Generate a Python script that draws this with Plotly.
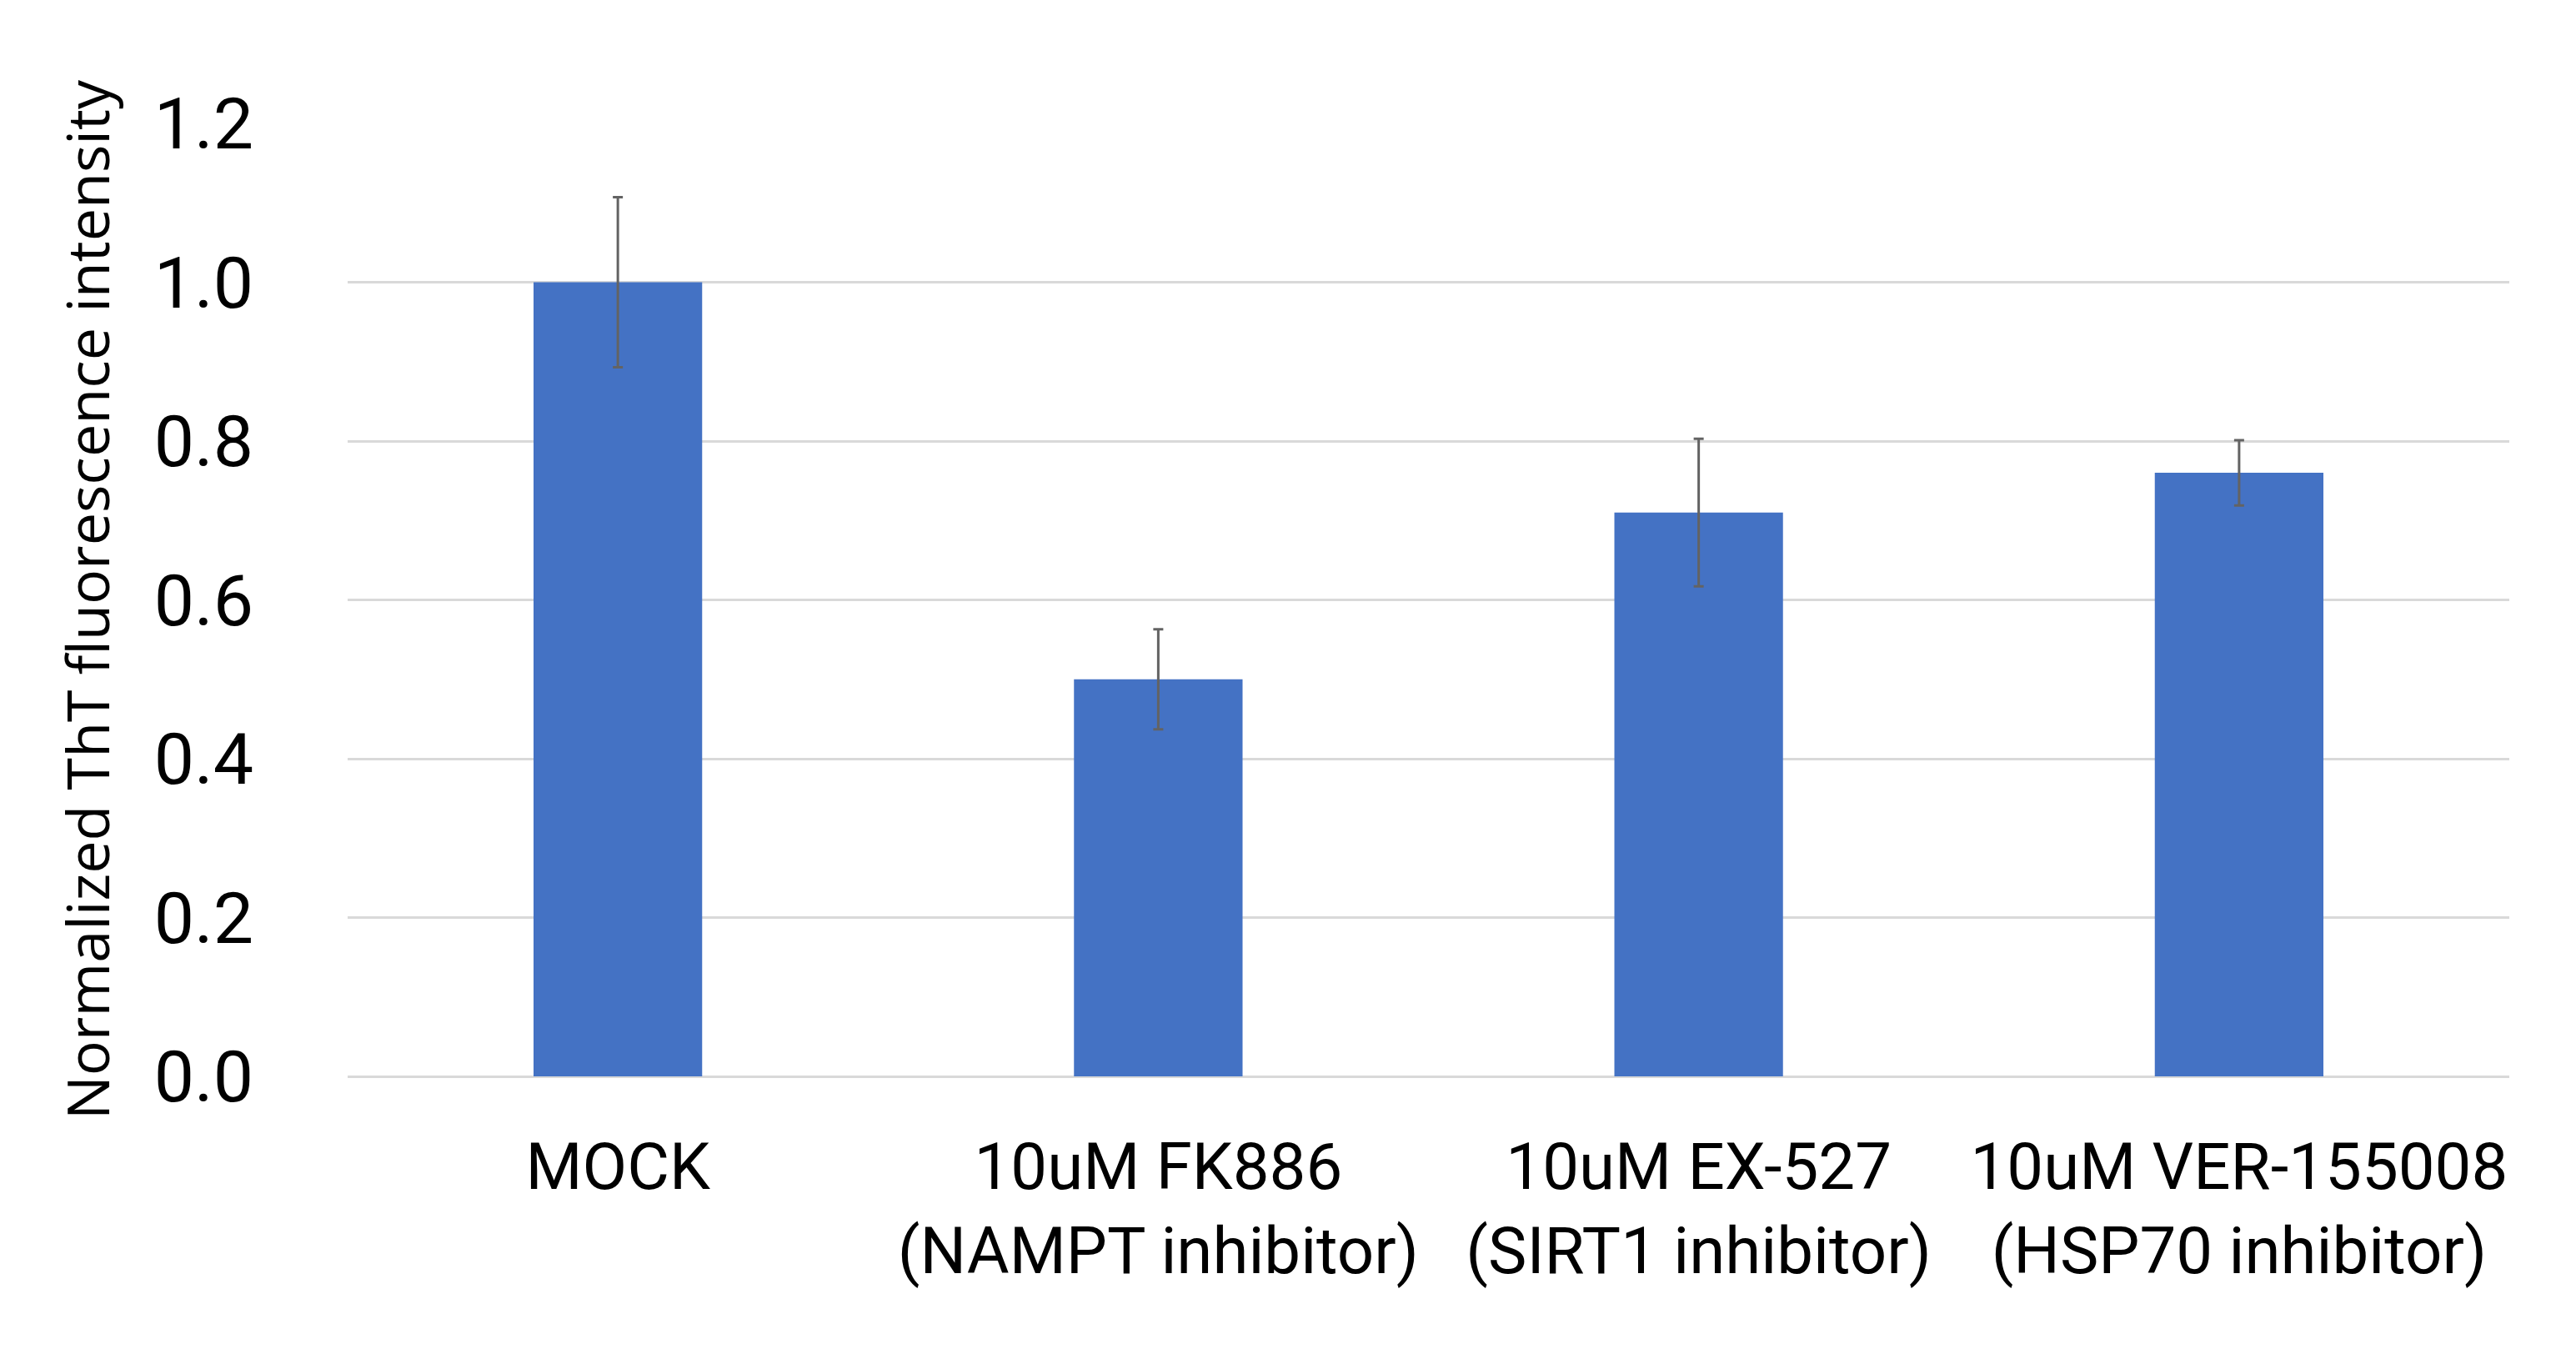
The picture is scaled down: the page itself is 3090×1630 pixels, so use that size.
import plotly.graph_objects as go

# treatments and normalized ThT readings
treatments = ['MOCK',
              '10uM FK886<br>(NAMPT inhibitor)',
              '10uM EX-527<br>(SIRT1 inhibitor)',
              '10uM VER-155008<br>(HSP70 inhibitor)']
tht_mean = [1.0, 0.50, 0.71, 0.76]
tht_err = [0.107, 0.063, 0.093, 0.041]
y_ticks = [0.0, 0.2, 0.4, 0.6, 0.8, 1.0, 1.2]
y_tick_text = ['0.0', '0.2', '0.4', '0.6', '0.8', '1.0', '1.2']

fig = go.Figure()
fig.add_trace(go.Bar(
    x=treatments,
    y=tht_mean,
    marker=dict(color='#4472C4', line=dict(width=0)),
    error_y=dict(type='data', array=tht_err, visible=True,
                 color='#636363', thickness=3, width=6)
))

# the page body adds an 8px margin, so the figure is a bit smaller than the window
fig.update_layout(
    width=3074,
    height=1614,
    plot_bgcolor='white',
    paper_bgcolor='white',
    margin=dict(l=409, r=72, t=140, b=331),
    bargap=0.688,
    showlegend=False,
    font=dict(family='Roboto', color='black')
)
fig.update_xaxes(
    showgrid=False,
    showline=False,
    ticks='',
    tickfont=dict(family='Roboto', size=78, color='black'),
    ticklabelstandoff=56
)
fig.update_yaxes(
    range=[0, 1.2],
    tickvals=y_ticks,
    ticktext=y_tick_text,
    showgrid=True,
    gridcolor='#d9d9d9',
    gridwidth=3,
    zeroline=True,
    zerolinecolor='#d9d9d9',
    zerolinewidth=3,
    showline=False,
    ticks='',
    tickfont=dict(family='Roboto', size=86, color='black'),
    ticklabelstandoff=112,
    title=dict(text='Normalized ThT fluorescence intensity',
               font=dict(family='Open Sans', size=70, color='black'),
               standoff=30)
)

fig.write_html("out.html")
